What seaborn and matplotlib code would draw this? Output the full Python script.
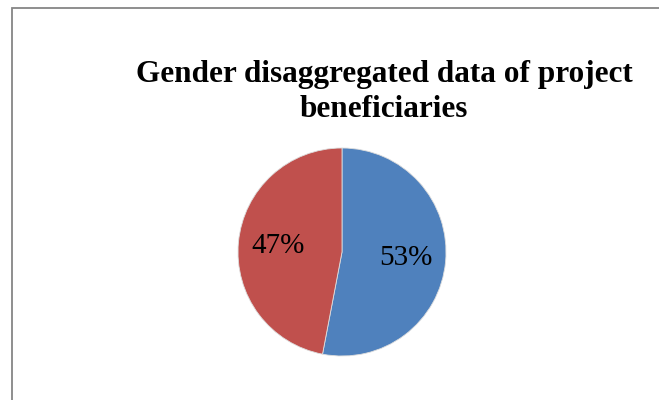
import matplotlib
matplotlib.use("Agg")
import matplotlib.pyplot as plt
import seaborn as sns
from matplotlib.patches import Rectangle

# data
groups = ["Male", "Female"]
shares = [53, 47]
colors = ["#4F81BD", "#C0504D"]
title = "Gender disaggregated data of project\nbeneficiaries"

sns.set_theme(style="white")
plt.rcParams["font.family"] = ["Liberation Serif", "DejaVu Serif"]

fig = plt.figure(figsize=(6.59, 4.0), dpi=100)
fig.patch.set_facecolor("white")

# chart border (cut off at the right and bottom in the reference)
fig.patches.append(Rectangle((11.5 / 659, -0.05), 0.99, 1.05 - 8 / 400,
                             transform=fig.transFigure, fill=False,
                             edgecolor="#868686", linewidth=1.3))

ax = fig.add_axes([(342 - 104) / 659, (148 - 104) / 400, 208 / 659, 208 / 400])
wedges, texts, autotexts = ax.pie(shares, colors=colors, startangle=90, counterclock=False,
                                  autopct="%1.0f%%", pctdistance=0.62,
                                  wedgeprops=dict(linewidth=0.6, edgecolor="#dddddd"),
                                  textprops=dict(fontsize=21, color="black"))
ax.set_xlim(-1, 1)
ax.set_ylim(-1, 1)
ax.set_aspect("equal")

fig.text(384 / 659, 1 - 92 / 400, title, ha="center", va="center", color="black",
         fontsize=22.5, fontweight="bold", linespacing=1.25)

fig.savefig("out.png", dpi=100)
